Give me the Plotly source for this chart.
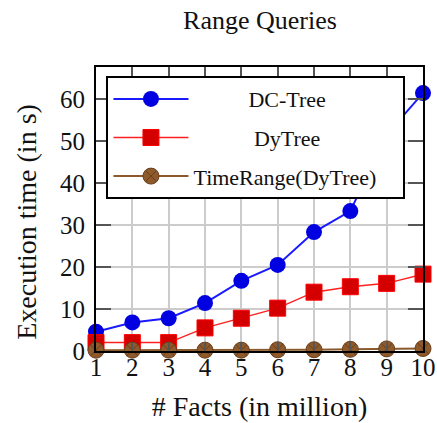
import plotly.graph_objects as go

facts = [1, 2, 3, 4, 5, 6, 7, 8, 9, 10]
dc_tree = [4.6, 6.8, 7.8, 11.4, 16.7, 20.5, 28.3, 33.3, 51.5, 61.4]
dy_tree = [2.0, 2.0, 2.0, 5.5, 7.8, 10.2, 14.0, 15.3, 16.1, 18.3]
time_range = [0.2, 0.2, 0.2, 0.2, 0.2, 0.3, 0.3, 0.4, 0.5, 0.6]
y_ticks = [0, 10, 20, 30, 40, 50, 60]
x_ticks = facts

FONT = "Liberation Serif"
NB = "\u00a0"

fig = go.Figure()
fig.add_trace(go.Scatter(
    x=facts, y=dc_tree, mode="lines+markers", name=NB * 10 + "DC-Tree",
    legendgroup="a", cliponaxis=False,
    line=dict(color="#1a1aff", width=2),
    marker=dict(symbol="circle", size=16, color="#0000e0", line=dict(width=0)),
))
fig.add_trace(go.Scatter(
    x=facts, y=dy_tree, mode="lines+markers", name=NB * 11 + "DyTree",
    legendgroup="b", cliponaxis=False,
    line=dict(color="#ff2020", width=1.5),
    marker=dict(symbol="square", size=16, color="#d40000", line=dict(color="#ff0000", width=1)),
))
fig.add_trace(go.Scatter(
    x=facts, y=time_range, mode="lines+markers", name="TimeRange(DyTree)" + NB * 4,
    legendgroup="c", cliponaxis=False,
    line=dict(color="#8a5a2b", width=2),
    marker=dict(symbol="circle-x", size=16, color="#8e5a2c", line=dict(color="#6a3f1c", width=1)),
))

axis_common = dict(
    showline=True, linecolor="black", linewidth=2, mirror="ticks",
    ticks="inside", tickcolor="#555555", tickwidth=1.5,
    showgrid=True, gridcolor="#cccccc", gridwidth=1.5,
    zeroline=False, automargin=False,
    tickfont=dict(family=FONT, size=25, color="#111111"),
    title_font=dict(family=FONT, size=28, color="#111111"),
)

fig.update_layout(
    width=437, height=423,
    margin=dict(l=96, r=14, t=67, b=72),
    paper_bgcolor="white", plot_bgcolor="white",
    title=dict(text="Range Queries", x=0.595, xanchor="center", y=0.952, yanchor="middle",
               font=dict(family=FONT, size=26, color="#111111")),
    xaxis=dict(range=[1, 10], tickvals=x_ticks, ticklen=9, ticklabelstandoff=-7,
               title=dict(text="# Facts (in million)", standoff=16), **axis_common),
    yaxis=dict(range=[0, 67.6], tickvals=y_ticks, ticklen=15, ticklabelstandoff=4,
               **axis_common),
    legend=dict(x=0.032, y=0.968, xanchor="left", yanchor="top",
                bgcolor="white", bordercolor="black", borderwidth=2,
                font=dict(family=FONT, size=22, color="#111111"),
                tracegroupgap=7, itemwidth=75, traceorder="grouped"),
    showlegend=True,
    annotations=[dict(text="Execution time (in s)", xref="paper", yref="paper",
                      x=-0.215, y=0.454, xanchor="center", yanchor="middle",
                      textangle=-90, showarrow=False,
                      font=dict(family=FONT, size=28, color="#111111"))],
)

fig.write_html("out.html")
